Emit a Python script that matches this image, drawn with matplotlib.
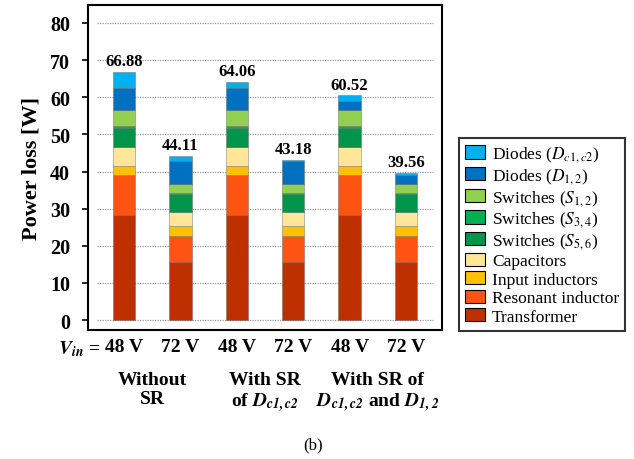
import matplotlib
matplotlib.use("Agg")
import matplotlib.pyplot as plt
from matplotlib.patches import Patch
import numpy as np

plt.rcParams["font.family"] = ["Liberation Serif", "DejaVu Serif"]
plt.rcParams["mathtext.fontset"] = "stix"

# Bar categories (input voltage) and component losses [W], bottom to top
vin_labels = ["48 V", "72 V", "48 V", "72 V", "48 V", "72 V"]
totals = [66.88, 44.11, 64.06, 43.18, 60.52, 39.56]

transformer = [28.40, 15.70, 28.40, 15.70, 28.40, 15.70]
resonant_ind = [10.65, 6.85, 10.65, 6.85, 10.65, 6.85]
input_ind = [2.35, 2.70, 2.35, 2.70, 2.35, 2.70]
capacitors = [5.10, 3.75, 5.10, 3.75, 5.10, 3.75]
switches_s56 = [5.20, 4.85, 5.20, 4.85, 5.20, 4.85]
switches_s34 = [0.50, 0.35, 0.50, 0.35, 0.50, 0.35]
switches_s12 = [4.45, 2.45, 4.45, 2.45, 4.45, 2.45]
diodes_d12 = [5.75, 6.10, 5.75, 6.10, 2.21, 2.48]
diodes_dc = [4.48, 1.36, 1.66, 0.43, 1.66, 0.43]

series = [
    ("Transformer", transformer, "#BF3000"),
    ("Resonant inductor", resonant_ind, "#FF5311"),
    ("Input inductors", input_ind, "#FFC000"),
    ("Capacitors", capacitors, "#FFE699"),
    (r"Switches ($S_{5,6}$)", switches_s56, "#00954A"),
    (r"Switches ($S_{3,4}$)", switches_s34, "#00B050"),
    (r"Switches ($S_{1,2}$)", switches_s12, "#92D050"),
    (r"Diodes ($D_{1,2}$)", diodes_d12, "#0070C0"),
    (r"Diodes ($D_{c1,c2}$)", diodes_dc, "#00B0F0"),
]

group_labels = [
    "Without\nSR",
    "With SR\n" + r"of $\mathbfit{D}_{\mathbfit{c1,c2}}$",
    "With SR of\n" + r"$\mathbfit{D}_{\mathbfit{c1,c2}}$ and $\mathbfit{D}_{\mathbfit{1,2}}$",
]

fig = plt.figure(figsize=(6.34, 4.60), dpi=100)
ax = fig.add_axes([0.1388, 0.2804, 0.5584, 0.7066])

x = np.arange(len(vin_labels))
ax.set_xlim(-0.64, 5.64)
ax.set_ylim(-2.69, 84.85)

yticks = np.arange(0, 81, 10)
ax.hlines(yticks, -0.48, 5.48, colors="#9a9a9a", linestyles=(0, (1, 1)),
          linewidth=0.9, zorder=0)

bottom = np.zeros(len(x))
for name, vals, color in series:
    vals = np.array(vals)
    ax.bar(x, vals, width=0.4, bottom=bottom, color=color,
           edgecolor=(0.35, 0.35, 0.35, 0.45), linewidth=0.6, zorder=2)
    bottom += vals

for xi, t in zip(x, totals):
    ax.annotate(f"{t:.2f}", (xi, t), xytext=(0, 2), textcoords="offset points",
                ha="center", va="bottom", fontsize=12, fontweight="bold")

ax.set_yticks(yticks)
ax.set_yticklabels([str(v) for v in yticks], fontsize=14.5, fontweight="bold")
ax.tick_params(axis="y", direction="out", length=4, width=1.2, pad=9)
ax.set_xticks(x)
ax.set_xticklabels(vin_labels, fontsize=14, fontweight="bold")
ax.tick_params(axis="x", length=0, pad=6)

for sp in ax.spines.values():
    sp.set_linewidth(1.5)
    sp.set_color("black")

ax.set_ylabel("Power loss [W]", fontsize=16, fontweight="bold", labelpad=6)

# "V_in =" prefix before the first voltage label
ax.annotate(r"$\mathbfit{V}_{\mathbfit{in}}$ =", (x[0] - 0.42, 0),
            xycoords=ax.get_xaxis_transform(), xytext=(0, -6.0), textcoords="offset points",
            ha="right", va="top", fontsize=14, fontweight="bold")

for gi, lab in enumerate(group_labels):
    ax.text(2 * gi + 0.5, -0.125, lab, transform=ax.get_xaxis_transform(),
            ha="center", va="top", fontsize=14, fontweight="bold", linespacing=1.2)

fig.text(0.494, 0.032, "(b)", ha="center", va="center", fontsize=12)

handles = [Patch(facecolor=c, edgecolor="black", linewidth=0.8, label=n)
           for n, _, c in series[::-1]]
leg = fig.legend(handles=handles, loc="upper left", bbox_to_anchor=(0.724, 0.697),
                 bbox_transform=fig.transFigure, borderaxespad=0, fontsize=12.5,
                 frameon=True, fancybox=False, edgecolor="black",
                 handlelength=1.15, handleheight=0.8, handletextpad=0.4,
                 labelspacing=0.1, borderpad=0.35)
leg.get_frame().set_linewidth(1.5)

fig.savefig("out.png", dpi=100)
